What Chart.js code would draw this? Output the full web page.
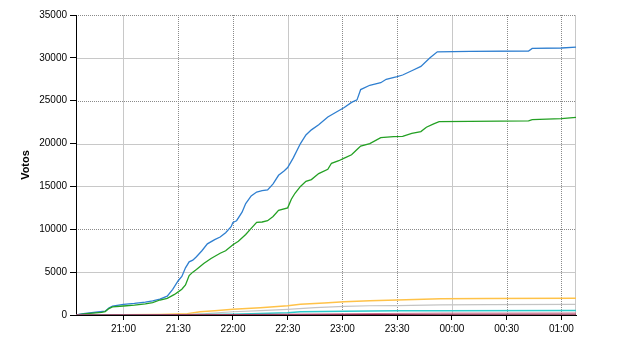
<!DOCTYPE html>
<html>
<head>
    <title>Votos</title>
    <script src="https://cdn.jsdelivr.net/npm/chart.js"></script>
    <style>
        html, body { margin: 0; padding: 0; background: #fff; }
        #wrap { width: 640px; height: 350px; }
    </style>
</head>
<body>
<div id="wrap"><canvas id="votesChart"></canvas></div>
<script>
    // x values are minutes after 20:00
    const tickMinutes = [60, 90, 120, 150, 180, 210, 240, 270, 300];
    const tickLabels = ['21:00', '21:30', '22:00', '22:30', '23:00', '23:30', '00:00', '00:30', '01:00'];
    const yTicks = [0, 5000, 10000, 15000, 20000, 25000, 30000, 35000];

    const blueMin = [34, 38, 46, 50, 52, 54, 60, 66, 72, 76, 80, 84, 87, 90, 92, 94, 96, 98, 100, 103, 106, 110, 113, 116, 119, 120, 122, 125, 127, 130, 133, 136, 139, 142, 145, 148, 150, 153, 157, 160, 163, 167, 172, 176, 181, 185, 188, 190, 195, 201, 204, 210, 213, 218, 223, 228, 232, 250, 282, 284, 300, 308];
    const blueVotes = [0, 150, 350, 450, 800, 1050, 1250, 1350, 1500, 1650, 1850, 2200, 3000, 4000, 4500, 5500, 6200, 6400, 6800, 7500, 8300, 8800, 9100, 9600, 10300, 10800, 11000, 12000, 13000, 13900, 14350, 14500, 14600, 15300, 16300, 16800, 17200, 18300, 20000, 21000, 21600, 22200, 23100, 23600, 24200, 24800, 25100, 26300, 26800, 27100, 27500, 27800, 28000, 28500, 29000, 30000, 30700, 30750, 30800, 31100, 31150, 31250];

    const greenMin = [34, 40, 48, 50, 52, 54, 60, 66, 72, 76, 80, 84, 88, 90, 92, 94, 96, 98, 100, 104, 108, 113, 116, 120, 123, 127, 130, 133, 136, 139, 142, 145, 150, 152, 154, 157, 160, 163, 167, 172, 174, 178, 181, 185, 188, 190, 195, 201, 208, 213, 218, 223, 226, 230, 233, 250, 282, 284, 300, 308];
    const greenVotes = [0, 150, 300, 400, 750, 950, 1050, 1150, 1300, 1450, 1750, 1950, 2400, 2700, 3000, 3500, 4600, 5000, 5300, 6000, 6600, 7200, 7500, 8200, 8600, 9400, 10100, 10800, 10850, 11000, 11500, 12200, 12500, 13500, 14200, 15000, 15600, 15800, 16500, 17000, 17700, 18000, 18300, 18700, 19300, 19700, 20000, 20700, 20800, 20850, 21200, 21400, 21900, 22300, 22550, 22600, 22650, 22800, 22900, 23050];

    const orangeMin = [34, 60, 80, 95, 102, 110, 120, 135, 150, 157, 170, 181, 195, 210, 234, 260, 308];
    const orangeVotes = [0, 20, 60, 150, 390, 500, 660, 850, 1080, 1250, 1400, 1550, 1650, 1750, 1900, 1920, 1950];

    const grayMin = [34, 90, 105, 120, 135, 150, 165, 181, 195, 210, 234, 260, 308];
    const grayVotes = [0, 20, 150, 380, 500, 650, 850, 1000, 1080, 1100, 1170, 1220, 1250];

    const cyanMin = [34, 90, 105, 120, 150, 157, 181, 210, 234, 308];
    const cyanVotes = [0, 10, 50, 100, 270, 390, 430, 500, 510, 520];

    const pinkMin = [34, 120, 181, 234, 308];
    const pinkVotes = [0, 50, 150, 220, 230];

    const darkMin = [34, 150, 234, 308];
    const darkVotes = [0, 30, 80, 90];

    // which grid lines are dotted instead of solid
    const dottedX = [90, 120, 180, 210, 270, 300];
    const dottedY = [35000, 25000, 10000];

    function points(xs, ys) {
        return xs.map((m, i) => ({ x: m, y: ys[i] }));
    }

    function series(xs, ys, color, width) {
        return {
            data: points(xs, ys),
            borderColor: color,
            borderWidth: width,
            pointRadius: 0,
            fill: false,
            tension: 0
        };
    }

    // grid drawn under the axes: mix of solid and dotted lines
    const gridPlugin = {
        id: 'mixedGrid',
        beforeDraw(chart) {
            const { ctx, chartArea: a, scales: { x, y } } = chart;
            ctx.save();
            ctx.lineWidth = 1;
            const line = (x1, y1, x2, y2, dotted) => {
                ctx.strokeStyle = dotted ? '#8a8a8a' : '#c8c8c8';
                ctx.setLineDash(dotted ? [1, 1] : []);
                ctx.beginPath();
                ctx.moveTo(x1, y1);
                ctx.lineTo(x2, y2);
                ctx.stroke();
            };
            tickMinutes.forEach(m => {
                const px = Math.round(x.getPixelForValue(m)) + 0.5;
                line(px, a.top, px, a.bottom, dottedX.includes(m));
            });
            yTicks.forEach(v => {
                if (v === 0) return;
                const py = Math.round(y.getPixelForValue(v)) + 0.5;
                line(a.left, py, a.right, py, dottedY.includes(v));
            });
            const rx = Math.round(a.right) - 0.5;
            line(rx, a.top, rx, a.bottom, false);
            ctx.restore();
        }
    };

    const tickFont = { family: 'Liberation Sans, Arial, sans-serif', size: 10 };

    const config = {
        type: 'line',
        data: {
            datasets: [
                series(darkMin, darkVotes, '#8a2246', 1),
                series(pinkMin, pinkVotes, '#d0708e', 1),
                series(cyanMin, cyanVotes, '#2ccaca', 1.5),
                series(grayMin, grayVotes, '#c4c4c4', 1.2),
                series(orangeMin, orangeVotes, '#ffc248', 1.5),
                series(greenMin, greenVotes, '#23a023', 1.3),
                series(blueMin, blueVotes, '#2f7fd0', 1.3)
            ]
        },
        options: {
            responsive: true,
            maintainAspectRatio: false,
            animation: false,
            layout: { padding: { top: 15, right: 64, left: 0, bottom: 0 } },
            plugins: {
                legend: { display: false },
                tooltip: { enabled: false }
            },
            scales: {
                x: {
                    type: 'linear',
                    min: 34,
                    max: 308,
                    afterBuildTicks: s => { s.ticks = tickMinutes.map(v => ({ value: v })); },
                    afterFit: s => { s.height = 35; },
                    ticks: {
                        callback: v => tickLabels[tickMinutes.indexOf(v)],
                        autoSkip: false,
                        maxRotation: 0,
                        color: '#000',
                        font: tickFont,
                        padding: 3
                    },
                    grid: { drawOnChartArea: false, tickLength: 5, tickColor: '#000' },
                    border: { color: '#000' }
                },
                y: {
                    min: 0,
                    max: 35000,
                    afterBuildTicks: s => { s.ticks = yTicks.map(v => ({ value: v })); },
                    afterFit: s => { s.width = 76; },
                    ticks: {
                        callback: v => String(v),
                        color: '#000',
                        font: tickFont,
                        padding: 3
                    },
                    grid: { drawOnChartArea: false, tickLength: 6, tickColor: '#000' },
                    border: { color: '#000' },
                    title: {
                        display: true,
                        text: 'Votos',
                        color: '#000',
                        font: { family: 'Liberation Sans, Arial, sans-serif', size: 11, weight: 'bold' },
                        padding: { top: 19, bottom: 0 }
                    }
                }
            }
        },
        plugins: [gridPlugin]
    };

    new Chart(document.getElementById('votesChart'), config);
</script>
</body>
</html>
